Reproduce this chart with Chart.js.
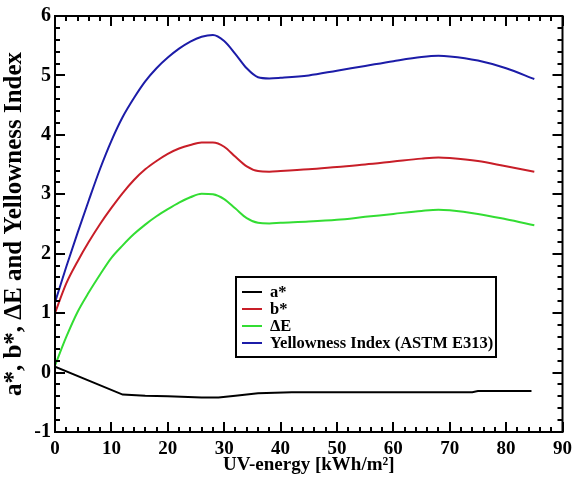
<!DOCTYPE html>
<html>
<head>
<meta charset="utf-8">
<script src="https://cdn.jsdelivr.net/npm/chart.js@4.4.1/dist/chart.umd.min.js"></script>
<style>
  html, body { margin: 0; padding: 0; background: #fff; }
  #wrap { width: 578px; height: 479px; }
</style>
</head>
<body>
<div id="wrap"><canvas id="myChart" width="578" height="479"></canvas></div>
<script>
// data
const energy = [0, 2, 4, 6, 8, 10, 12, 14, 16, 18, 20, 22, 24, 26, 28, 30, 32, 34, 36, 38, 40, 45, 50, 55, 60, 65, 68, 70, 75, 80, 85];
const bStar = [1.0, 1.5, 1.87, 2.2, 2.5, 2.77, 3.02, 3.24, 3.42, 3.56, 3.68, 3.77, 3.83, 3.87, 3.87, 3.8, 3.63, 3.47, 3.39, 3.38, 3.39, 3.42, 3.46, 3.5, 3.55, 3.6, 3.62, 3.61, 3.56, 3.47, 3.38];
const deltaE = [0.12, 0.6, 1.02, 1.35, 1.65, 1.93, 2.14, 2.33, 2.49, 2.63, 2.75, 2.86, 2.95, 3.01, 3.0, 2.92, 2.76, 2.6, 2.52, 2.51, 2.52, 2.54, 2.57, 2.62, 2.67, 2.72, 2.74, 2.73, 2.67, 2.58, 2.48];
const yellowness = [1.18, 1.78, 2.35, 2.9, 3.43, 3.9, 4.3, 4.62, 4.9, 5.12, 5.3, 5.45, 5.57, 5.65, 5.68, 5.58, 5.36, 5.12, 4.97, 4.95, 4.96, 5.0, 5.08, 5.16, 5.24, 5.31, 5.33, 5.32, 5.25, 5.12, 4.94];

const energyA = [0, 12, 16, 20, 26, 29, 32, 36, 42, 74, 75, 84.5];
const aStar = [0.1, -0.37, -0.39, -0.4, -0.42, -0.42, -0.39, -0.35, -0.33, -0.33, -0.31, -0.31];

const labels = ['a*', 'b*', '\u0394E', 'Yellowness Index (ASTM E313)'];
const colors = ['#000000', '#c81e28', '#33dd33', '#1c1ca8'];

function pts(xs, ys) {
  return xs.map((x, i) => ({ x: x, y: ys[i] }));
}

const serif = 'Liberation Serif, Times New Roman, serif';

// frame + inward ticks on all four sides
const frameTicks = {
  id: 'frameTicks',
  afterDatasetsDraw(chart) {
    const ctx = chart.ctx;
    const a = chart.chartArea;
    const xs = chart.scales.x;
    const ys = chart.scales.y;
    ctx.save();
    ctx.strokeStyle = '#000';
    ctx.lineWidth = 2;
    ctx.strokeRect(a.left, a.top, a.right - a.left, a.bottom - a.top);
    ctx.beginPath();
    for (let v = 0; v <= 90; v += 2) {
      const px = Math.round(xs.getPixelForValue(v));
      const len = v % 10 === 0 ? 10 : 5;
      ctx.moveTo(px, a.bottom); ctx.lineTo(px, a.bottom - len);
      ctx.moveTo(px, a.top); ctx.lineTo(px, a.top + len);
    }
    for (let i = -5; i <= 30; i++) {
      const py = Math.round(ys.getPixelForValue(i / 5));
      const len = i % 5 === 0 ? 10 : 5;
      ctx.moveTo(a.left, py); ctx.lineTo(a.left + len, py);
      ctx.moveTo(a.right, py); ctx.lineTo(a.right - len, py);
    }
    ctx.stroke();
    ctx.restore();
  }
};

// boxed legend inside the plot
const boxLegend = {
  id: 'boxLegend',
  afterDraw(chart) {
    const ctx = chart.ctx;
    const a = chart.chartArea;
    const left = a.left + 181;
    const top = a.top + 261;
    ctx.save();
    ctx.fillStyle = '#fff';
    ctx.fillRect(left, top, 260, 80);
    ctx.strokeStyle = '#000';
    ctx.lineWidth = 2;
    ctx.strokeRect(left, top, 260, 80);
    ctx.font = 'bold 16.5px ' + serif;
    ctx.textBaseline = 'middle';
    chart.data.datasets.forEach((ds, i) => {
      const y = top + 15 + i * 17;
      ctx.strokeStyle = ds.borderColor;
      ctx.beginPath();
      ctx.moveTo(left + 6, y); ctx.lineTo(left + 26, y);
      ctx.stroke();
      ctx.fillStyle = '#000';
      ctx.fillText(ds.label, left + 34, y + 1);
    });
    ctx.restore();
  }
};

const ctx = document.getElementById('myChart').getContext('2d');

new Chart(ctx, {
  type: 'line',
  data: {
    datasets: [
      { label: labels[0], data: pts(energyA, aStar), borderColor: colors[0], tension: 0 },
      { label: labels[1], data: pts(energy, bStar), borderColor: colors[1], cubicInterpolationMode: 'monotone' },
      { label: labels[2], data: pts(energy, deltaE), borderColor: colors[2], cubicInterpolationMode: 'monotone' },
      { label: labels[3], data: pts(energy, yellowness), borderColor: colors[3], cubicInterpolationMode: 'monotone' }
    ]
  },
  options: {
    responsive: false,
    animation: false,
    layout: { padding: { top: 16, right: 11, left: 0, bottom: 0 } },
    elements: {
      point: { radius: 0 },
      line: { borderWidth: 2, fill: false }
    },
    plugins: {
      legend: { display: false },
      tooltip: { enabled: false }
    },
    scales: {
      x: {
        type: 'linear',
        min: 0,
        max: 90,
        grid: { display: false, drawTicks: false },
        border: { display: false },
        ticks: { stepSize: 10, autoSkip: false, maxRotation: 0, padding: 6, color: '#000', font: { family: serif, size: 19, weight: 'bold' } },
        title: { display: true, text: 'UV-energy [kWh/m\u00b2]', color: '#000', font: { family: serif, size: 19, weight: 'bold' }, padding: { top: 0, bottom: 3 } },
        afterFit: s => { s.height = 47; }
      },
      y: {
        min: -1,
        max: 6,
        grid: { display: false, drawTicks: false },
        border: { display: false },
        ticks: { stepSize: 1, autoSkip: false, padding: 4, color: '#000', font: { family: serif, size: 20, weight: 'bold' } },
        title: { display: true, text: 'a*, b*, \u0394E and Yellowness Index', color: '#000', font: { family: serif, size: 25, weight: 'bold', lineHeight: 1 }, padding: { top: 2, bottom: 0 } },
        afterFit: s => { s.width = 55; }
      }
    }
  },
  plugins: [frameTicks, boxLegend]
});
</script>
</body>
</html>
